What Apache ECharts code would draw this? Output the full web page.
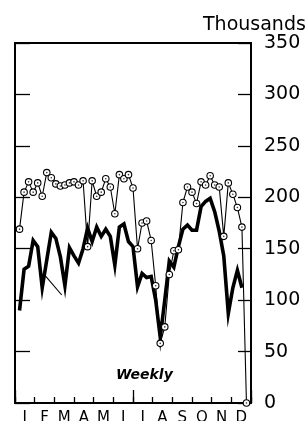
<!DOCTYPE html>
<html>
<head>
<meta charset="utf-8">
<script src="https://cdn.jsdelivr.net/npm/echarts@6/dist/echarts.min.js"></script>
<style>
    html, body { margin: 0; padding: 0; background: #fff; }
    #chart { width: 307px; height: 421px; }
</style>
</head>
<body>
<div id="chart"></div>
<script>
    // month labels along the bottom
    var months = ['J', 'F', 'M', 'A', 'M', 'J', 'J', 'A', 'S', 'O', 'N', 'D'];
    // y tick values (thousands)
    var yTicks = [0, 50, 100, 150, 200, 250, 300, 350];

    // weekly values, thousands, weeks 1..51 - thin line with circles
    var circled = [169, 205, 215, 205, 214, 201, 224, 219, 213, 211,
                   212, 214, 215, 212, 216, 152, 216, 201, 205, 218,
                   210, 184, 222, 218, 222, 209, 150, 175, 177, 158,
                   114, 58, 74, 125, 148, 149, 195, 210, 205, 194,
                   215, 212, 221, 212, 210, 162, 214, 203, 190, 171,
                   0];
    // weekly values, thousands, weeks 1..50 - heavy line
    var heavy = [90, 130, 133, 158, 152, 112, 139, 166, 160, 142,
                 114, 151, 143, 136, 150, 170, 157, 171, 162, 169,
                 162, 134, 171, 174, 157, 152, 113, 126, 122, 123,
                 100, 64, 100, 138, 132, 152, 169, 173, 168, 168,
                 191, 196, 199, 186, 167, 143, 87, 112, 129, 112];
    // little leader line near the start (week, value)
    var pointer = [[6.6, 124], [10.3, 105]];

    var font = 'DejaVu Sans';

    function toPoints(arr) {
        return arr.map(function (v, i) { return [i + 1, v]; });
    }

    // tick-only value axis (no labels), used for the left side and again on the right
    function tickAxis(pos, len) {
        return {
            type: 'value',
            position: pos,
            min: yTicks[0], max: yTicks[yTicks.length - 1], interval: 50,
            axisLine: { show: true, onZero: false, lineStyle: { color: '#000', width: 2 } },
            axisTick: { show: true, inside: true, length: len, lineStyle: { color: '#000', width: 1.3 } },
            axisLabel: { show: false },
            splitLine: { show: false }
        };
    }

    var myChart = echarts.init(document.getElementById('chart'), null, { renderer: 'canvas' });

    var option = {
        animation: false,
        backgroundColor: '#fff',
        title: [{
            text: 'Thousands',
            left: 198,
            top: 11,
            textStyle: { fontFamily: font, fontSize: 19, fontWeight: 'normal', color: '#000' }
        }, {
            text: 'Weekly',
            left: 111,
            top: 363,
            textStyle: { fontFamily: font, fontSize: 14, fontWeight: 'bold', fontStyle: 'italic', color: '#000' }
        }],
        grid: {
            left: 15, right: 56, top: 43, bottom: 18,
            outerBoundsMode: 'none',
            containLabel: false,
            show: true, borderColor: '#000', borderWidth: 2, backgroundColor: 'transparent'
        },
        xAxis: [{
            // data axis: weeks; its tick at 26 is the long mid-year mark
            type: 'value',
            position: 'bottom',
            min: 0, max: 52, interval: 26,
            axisLine: { show: false, onZero: false },
            axisLabel: { show: false },
            axisTick: { show: true, inside: true, length: 13, lineStyle: { color: '#000', width: 1.3 } },
            splitLine: { show: false }
        }, {
            type: 'category',
            position: 'bottom',
            data: months,
            axisLine: { show: true, onZero: false, lineStyle: { color: '#000', width: 2 } },
            axisTick: { show: true, interval: 0, inside: true, length: 6, lineStyle: { color: '#000', width: 1.3 } },
            axisLabel: { interval: 0, margin: 8, fontFamily: font, fontSize: 15, color: '#000' },
            splitLine: { show: false }
        }],
        yAxis: [{
            type: 'value',
            position: 'right',
            min: yTicks[0], max: yTicks[yTicks.length - 1], interval: 50,
            axisLine: { show: true, onZero: false, lineStyle: { color: '#000', width: 2 } },
            axisTick: { show: false },
            axisLabel: { margin: 13, fontFamily: font, fontSize: 19, color: '#000' },
            splitLine: { show: false }
        },
        tickAxis('left', 15),
        tickAxis('right', 13)],
        series: [{
            name: 'heavy',
            type: 'line',
            xAxisIndex: 0, yAxisIndex: 0,
            data: toPoints(heavy),
            symbol: 'none',
            lineStyle: { color: '#000', width: 3.6, join: 'miter' },
            z: 2,
            markLine: {
                silent: true,
                symbol: 'none',
                label: { show: false },
                lineStyle: { color: '#000', width: 1.1, type: 'solid' },
                data: [[{ coord: pointer[0] }, { coord: pointer[1] }]]
            }
        }, {
            name: 'circled',
            type: 'line',
            xAxisIndex: 0, yAxisIndex: 0,
            data: toPoints(circled),
            symbol: 'circle',
            symbolSize: 6.5,
            itemStyle: { color: '#fff', borderColor: '#000', borderWidth: 1.1 },
            lineStyle: { color: '#000', width: 1.1 },
            z: 3
        }, {
            name: 'dots',
            type: 'scatter',
            xAxisIndex: 0, yAxisIndex: 0,
            data: toPoints(circled),
            symbol: 'circle',
            symbolSize: 1.6,
            itemStyle: { color: '#000' },
            z: 4
        }]
    };
    myChart.setOption(option, true);
</script>
</body>
</html>
